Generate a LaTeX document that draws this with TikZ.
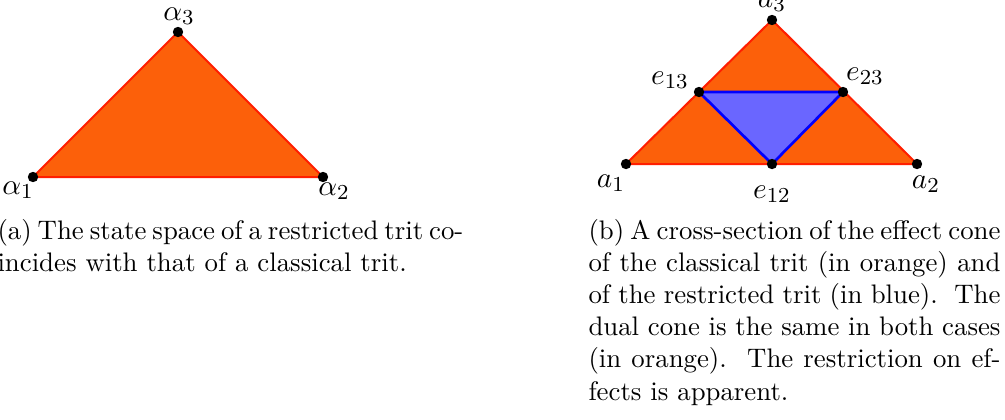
\documentclass[tikz,border=0pt]{standalone}
\usepackage{amsmath}
\definecolor{fillorange}{RGB}{252,96,10}
\definecolor{edgered}{RGB}{255,30,0}
\definecolor{fillblue}{RGB}{106,102,255}
\begin{document}
\begin{tikzpicture}[x=0.375pt,y=-0.375pt,
  dot/.style={circle,fill=black,inner sep=0pt,minimum size=3.9pt},
  lbl/.style={inner sep=0pt,font=\fontsize{11}{13}\selectfont},
  orangetri/.style={fill=fillorange,draw=edgered,line width=0.75pt,line join=round},
  bluetri/.style={fill=fillblue,draw=blue,line width=1pt,line join=round},
  capline/.style={anchor=base west,inner sep=0pt,font=\fontsize{10.05}{12}\selectfont}]
\useasboundingbox (0,0) rectangle (1005,419);
% (a)
\coordinate (A1) at (33,177);
\coordinate (A2) at (323,177);
\coordinate (A3) at (178,32);
\filldraw[orangetri] (A1) -- (A2) -- (A3) -- cycle;
\node[dot] (dA1) at (A1) {};
\node[dot] (dA2) at (A2) {};
\node[dot] (dA3) at (A3) {};
\node[lbl] (lA1) at (18,190) {$\alpha_1$};
\node[lbl] (lA2) at (334,191) {$\alpha_2$};
\node[lbl] (lA3) at (179,16) {$\alpha_3$};
% (b)
\coordinate (B1) at (626,164);
\coordinate (B2) at (917,164);
\coordinate (B3) at (772,20);
\coordinate (E13) at (699,92);
\coordinate (E23) at (843,92);
\coordinate (E12) at (772,164);
\filldraw[orangetri] (B1) -- (B2) -- (B3) -- cycle;
\filldraw[bluetri] (E13) -- (E23) -- (E12) -- cycle;
\node[dot] (dB1) at (B1) {};
\node[dot] (dB2) at (B2) {};
\node[dot] (dB3) at (B3) {};
\node[dot] (dE13) at (E13) {};
\node[dot] (dE23) at (E23) {};
\node[dot] (dE12) at (E12) {};
\node[lbl] (lB1) at (611,183) {$a_1$};
\node[lbl] (lB2) at (926,184) {$a_2$};
\node[lbl] (lB3) at (772,3) {$a_3$};
\node[lbl] (lE13) at (670,80) {$e_{13}$};
\node[lbl] (lE23) at (865,76) {$e_{23}$};
\node[lbl] (lE12) at (772,194) {$e_{12}$};
% captions
\node[capline] (ca1) at (-3,239) {\makebox[174.4pt][s]{(a) The state space of a restricted trit co-}};
\node[capline] (ca2) at (-3,271.2) {incides with that of a classical trit.};
\node[capline] (cb1) at (588,239) {\makebox[154.5pt][s]{(b) A cross-section of the effect cone}};
\node[capline] (cb2) at (588,271.2) {\makebox[154.5pt][s]{of the classical trit (in orange) and}};
\node[capline] (cb3) at (588,303.4) {\makebox[154.5pt][s]{of the restricted trit (in blue).\ \ The}};
\node[capline] (cb4) at (588,335.6) {\makebox[154.5pt][s]{dual cone is the same in both cases}};
\node[capline] (cb5) at (588,367.8) {\makebox[154.5pt][s]{(in orange).\ \ The restriction on ef-}};
\node[capline] (cb6) at (588,400) {fects is apparent.};
\end{tikzpicture}
\end{document}
